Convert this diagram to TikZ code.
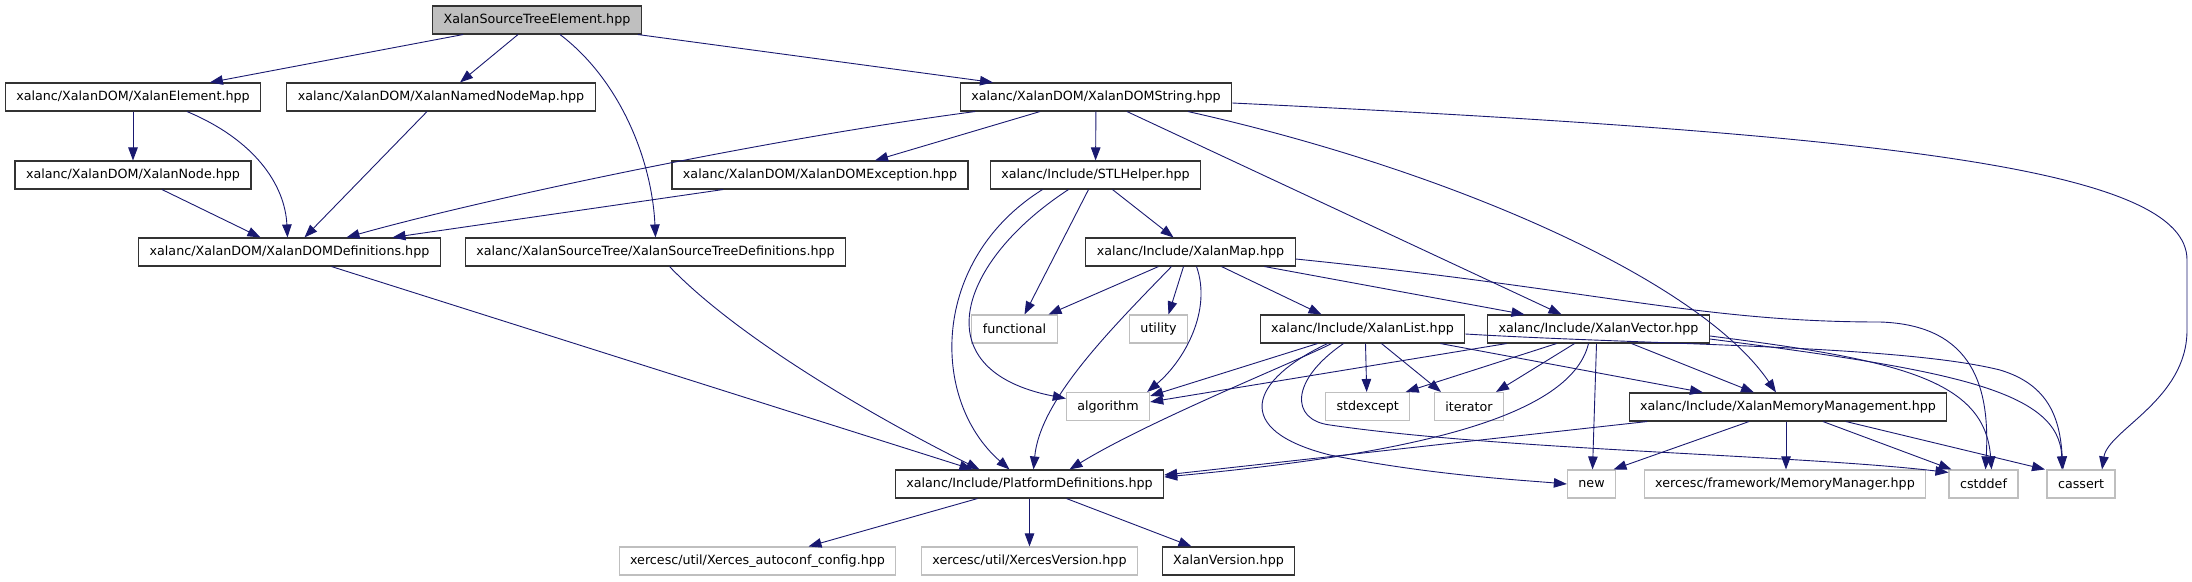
\documentclass[tikz,border=0pt]{standalone}
\usepackage{fontspec}
\setmainfont{DejaVu Sans}
\usetikzlibrary{arrows.meta,calc}
\definecolor{depEdge}{HTML}{191970}
\definecolor{depSysLine}{HTML}{BFBFBF}
\definecolor{depRootFill}{HTML}{BFBFBF}
\tikzset{
    depBoxBase/.style={
        rectangle,
        draw,
        line width=1.1pt,
        minimum height=28pt,
        inner xsep=11pt,
        inner ysep=0pt,
        font=\fontsize{12.7}{14}\selectfont
    },
    % file kinds
    depFile/.style={depBoxBase, draw=black!80},
    depRoot/.style={depBoxBase, fill=depRootFill, draw=black!80},
    depSys/.style={depBoxBase, draw=depSysLine},
    % include edges
    depArrow/.style={-{Triangle[length=13pt,width=9.5pt]}, line width=0.9pt, draw=depEdge}
}

\begin{document}
\begin{tikzpicture}[x=1pt, y=-1pt]
    \useasboundingbox (0,0) rectangle (2192,581);

    \node[depRoot] (ste) at (537,20) {XalanSourceTreeElement.hpp};
    \node[depFile] (elem) at (133,97) {xalanc/XalanDOM/XalanElement.hpp};
    \node[depFile] (nnm) at (441,97) {xalanc/XalanDOM/XalanNamedNodeMap.hpp};
    \node[depFile] (domstr) at (1096,97) {xalanc/XalanDOM/XalanDOMString.hpp};
    \node[depFile] (node) at (133,175) {xalanc/XalanDOM/XalanNode.hpp};
    \node[depFile] (domexc) at (820,175) {xalanc/XalanDOM/XalanDOMException.hpp};
    \node[depFile] (stl) at (1095.5,175) {xalanc/Include/STLHelper.hpp};
    \node[depFile] (domdefs) at (289.5,252) {xalanc/XalanDOM/XalanDOMDefinitions.hpp};
    \node[depFile] (stdefs) at (655.5,252) {xalanc/XalanSourceTree/XalanSourceTreeDefinitions.hpp};
    \node[depFile] (xmap) at (1190.5,252) {xalanc/Include/XalanMap.hpp};
    \node[depSys] (functional) at (1014.5,329) {functional};
    \node[depSys] (utility) at (1158.5,329) {utility};
    \node[depFile] (xlist) at (1362.5,329) {xalanc/Include/XalanList.hpp};
    \node[depFile] (xvec) at (1598.5,329) {xalanc/Include/XalanVector.hpp};
    \node[depSys] (algorithm) at (1108,406.5) {algorithm};
    \node[depSys] (stdexcept) at (1367.7,406.5) {stdexcept};
    \node[depSys] (iterator) at (1469,406.5) {iterator};
    \node[depFile] (xmm) at (1788,407) {xalanc/Include/XalanMemoryManagement.hpp};
    \node[depFile] (platdefs) at (1029.5,484) {xalanc/Include/PlatformDefinitions.hpp};
    \node[depSys] (new) at (1591.5,484) {new};
    \node[depSys] (memmgr) at (1785,484) {xercesc/framework/MemoryManager.hpp};
    \node[depSys] (cstddef) at (1983.5,484) {cstddef};
    \node[depSys] (cassert) at (2081,484) {cassert};
    \node[depSys] (autoconf) at (757.5,561) {xercesc/util/Xerces\_autoconf\_config.hpp};
    \node[depSys] (xversion) at (1029.5,561) {xercesc/util/XercesVersion.hpp};
    \node[depFile] (xalanver) at (1228.5,561) {XalanVersion.hpp};

    % XalanSourceTreeElement.hpp
    \draw[depArrow] ([xshift=-74pt]ste.south) -- (elem);
    \draw[depArrow] ([xshift=-19pt]ste.south) -- ([xshift=19pt]nnm.north);
    \draw[depArrow] ([xshift=23pt]ste.south) .. controls (620,80) and (652,160) .. (stdefs.north);
    \draw[depArrow] ([xshift=101pt]ste.south) -- ([xshift=-103pt]domstr.north);
    % XalanDOM
    \draw[depArrow] (elem) -- (node);
    \draw[depArrow] ([xshift=54pt]elem.south) .. controls (255,140) and (285,185) .. ([xshift=-2pt]domdefs.north);
    \draw[depArrow] ([xshift=-14pt]nnm.south) -- ([xshift=15pt]domdefs.north);
    \draw[depArrow] ([xshift=29pt]node.south) -- ([xshift=-29pt]domdefs.north);
    \draw[depArrow] ([xshift=-121pt]domstr.south) .. controls (760,140) and (480,200) .. ([xshift=57pt]domdefs.north);
    \draw[depArrow] ([xshift=-56pt]domstr.south) -- ([xshift=55pt]domexc.north);
    \draw[depArrow] (domstr) -- (stl);
    \draw[depArrow] ([xshift=31pt]domstr.south) -- ([xshift=-37pt]xvec.north);
    \draw[depArrow] ([xshift=92pt]domstr.south) .. controls (1450,170) and (1700,280) .. ([xshift=-12pt]xmm.north);
    \draw[depArrow] ([yshift=-6pt]domstr.east) .. controls (1900,135) and (2187,170) .. (2187,260)
        -- (2187,330) .. controls (2187,400) and (2108,430) .. ([xshift=21pt]cassert.north);
    \draw[depArrow] ([xshift=-97pt]domexc.south) -- ([xshift=103pt]domdefs.north);
    \draw[depArrow] ([xshift=42pt]domdefs.south) -- ([xshift=-57pt]platdefs.north);
    \draw[depArrow] ([xshift=14pt]stdefs.south) .. controls (740,340) and (880,420) .. ([xshift=-50pt]platdefs.north);
    % STLHelper.hpp
    \draw[depArrow] ([xshift=-7pt]stl.south) -- ([xshift=10pt]functional.north);
    \draw[depArrow] ([xshift=-27pt]stl.south) .. controls (960,260) and (920,370) .. ([yshift=8pt]algorithm.west);
    \draw[depArrow] ([xshift=-53pt]stl.south) .. controls (930,260) and (930,400) .. ([xshift=-20pt]platdefs.north);
    \draw[depArrow] ([xshift=17pt]stl.south) -- ([xshift=-17pt]xmap.north);
    % XalanMap.hpp
    \draw[depArrow] ([xshift=-32pt]xmap.south) -- ([xshift=34pt]functional.north);
    \draw[depArrow] ([xshift=-7pt]xmap.south) -- ([xshift=10pt]utility.north);
    \draw[depArrow] ([xshift=6pt]xmap.south) .. controls (1212,310) and (1185,360) .. ([xshift=-3pt]algorithm.north east);
    \draw[depArrow] ([xshift=-19pt]xmap.south) .. controls (1110,330) and (1040,400) .. ([xshift=4pt]platdefs.north);
    \draw[depArrow] ([xshift=31pt]xmap.south) -- ([xshift=-41pt]xlist.north);
    \draw[depArrow] ([xshift=74pt]xmap.south) -- ([xshift=-74pt]xvec.north);
    \draw[depArrow] ([yshift=-7pt]xmap.east) .. controls (1600,290) and (1700,322) .. (1880,322)
        .. controls (1975,325) and (1990,390) .. ([xshift=2pt]cstddef.north);
    % XalanList.hpp
    \draw[depArrow] ([xshift=-45pt]xlist.south) -- ([yshift=-4pt]algorithm.north east);
    \draw[depArrow] ([xshift=3pt]xlist.south) -- ([xshift=-1pt]stdexcept.north);
    \draw[depArrow] ([xshift=19pt]xlist.south) -- ([xshift=-28pt]iterator.north);
    \draw[depArrow] ([xshift=-31pt]xlist.south) .. controls (1300,360) and (1150,420) .. ([xshift=40pt]platdefs.north);
    \draw[depArrow] ([xshift=-35pt]xlist.south) .. controls (1250,380) and (1230,430) .. (1330,455)
        .. controls (1430,475) and (1520,480) .. (new.west);
    \draw[depArrow] ([xshift=-19pt]xlist.south) .. controls (1290,380) and (1290,420) .. (1330,425)
        .. controls (1500,450) and (1800,455) .. ([yshift=-3pt]cstddef.north west);
    \draw[depArrow] ([xshift=78pt]xlist.south) -- ([xshift=-85pt]xmm.north);
    \draw[depArrow] ([yshift=-5pt]xlist.east) .. controls (1650,345) and (1900,345) .. (2000,370)
        .. controls (2050,385) and (2060,420) .. ([xshift=-18pt]cassert.north);
    % XalanVector.hpp
    \draw[depArrow] ([xshift=-92pt]xvec.south) -- ([yshift=-10pt]algorithm.north east);
    \draw[depArrow] ([xshift=-42pt]xvec.south) -- ([xshift=38pt]stdexcept.north);
    \draw[depArrow] ([xshift=-24pt]xvec.south) -- ([xshift=27pt]iterator.north);
    \draw[depArrow] ([xshift=-2pt]xvec.south) -- ([xshift=1pt]new.north);
    \draw[depArrow] ([xshift=-10pt]xvec.south) .. controls (1570,420) and (1400,455) .. ([yshift=7pt]platdefs.east);
    \draw[depArrow] ([xshift=33pt]xvec.south) -- ([xshift=-34pt]xmm.north);
    \draw[depArrow] ([yshift=-7pt]xvec.east) .. controls (1900,360) and (1985,380) .. ([xshift=8pt]cstddef.north);
    \draw[depArrow] ([yshift=-10pt]xvec.east) .. controls (1950,370) and (2060,390) .. ([xshift=-19pt]cassert.north);
    % XalanMemoryManagement.hpp
    \draw[depArrow] ([xshift=-141pt]xmm.south) -- ([yshift=9pt]platdefs.east);
    \draw[depArrow] ([xshift=-39pt]xmm.south) -- ([xshift=22pt]new.north);
    \draw[depArrow] ([xshift=-2pt]xmm.south) -- ([xshift=1pt]memmgr.north);
    \draw[depArrow] ([xshift=35pt]xmm.south) -- ([xshift=-32pt]cstddef.north);
    \draw[depArrow] ([xshift=58pt]xmm.south) -- ([xshift=-36pt]cassert.north);
    % PlatformDefinitions.hpp
    \draw[depArrow] ([xshift=-52pt]platdefs.south) -- ([xshift=51pt]autoconf.north);
    \draw[depArrow] (platdefs) -- (xversion);
    \draw[depArrow] ([xshift=37pt]platdefs.south) -- ([xshift=-37pt]xalanver.north);
\end{tikzpicture}
\end{document}
